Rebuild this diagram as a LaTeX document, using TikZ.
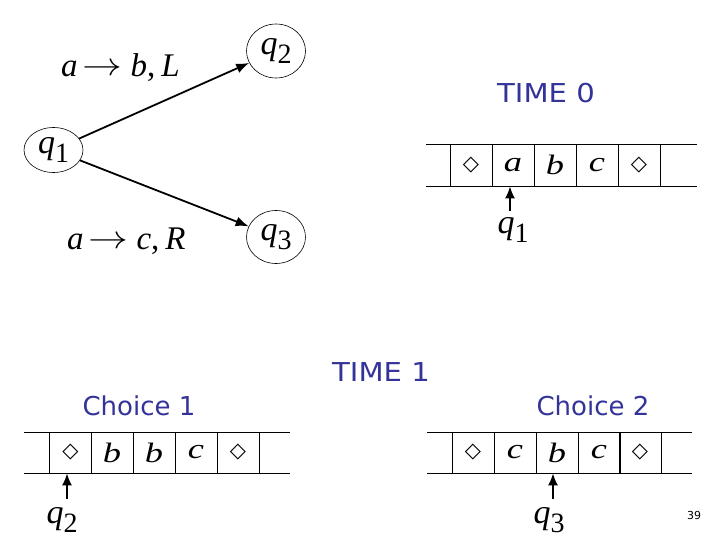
\documentclass[tikz,border=0pt]{standalone}
\usepackage{fontspec}
\setmainfont{Liberation Serif}
\newfontfamily\lblfont{DejaVu Sans}
\newfontfamily\symfont{DejaVu Sans}
\usetikzlibrary{arrows.meta,shapes.geometric}
\definecolor{tblue}{RGB}{51,51,153}
\newcommand{\qq}[1]{{\fontsize{34}{34}\selectfont\itshape q}{\fontsize{28}{28}\selectfont\raisebox{-9pt}{#1}}}
\newcommand{\tl}[1]{\fontsize{28}{28}\selectfont\scalebox{1.3}[1]{\itshape #1}}
\newcommand{\bl}{{\symfont\fontsize{21}{21}\selectfont ◇}}
\newcommand{\arr}{\hspace{5pt}\raisebox{1pt}{\scalebox{1.6}[1.3]{$\rightarrow$}}\hspace{8pt}}
\begin{document}
\begin{tikzpicture}[x=1pt,y=-1pt,
  state/.style={draw,ellipse,line width=0.6pt,inner sep=0pt,minimum width=59pt},
  trans/.style={-{Latex[length=13pt,width=10pt]},line width=1.8pt},
  head/.style={-{Latex[length=12pt,width=10pt]},line width=1.6pt},
  cell/.style={draw,line width=0.8pt,minimum width=42pt,minimum height=42pt,inner sep=0pt},
  tapeline/.style={line width=0.8pt},
  lbl/.style={text=tblue,font=\lblfont\fontsize{26}{26}\selectfont},
  ml/.style={font=\fontsize{33}{33}\selectfont,inner sep=0pt,anchor=base west},
  qlbl/.style={inner sep=0pt}]
\useasboundingbox (0,0) rectangle (720,540);
\fill[white] (0,0) rectangle (720,540);

% state diagram
\node[state,minimum height=45pt] (q1) at (53.5,150) {\qq{1}};
\node[state,minimum height=54pt] (q2) at (276,51) {\qq{2}};
\node[state,minimum height=53pt] (q3) at (276,237) {\qq{3}};
\draw[trans] (q1) -- (q2);
\draw[trans] (q1) -- (q3);
\node[ml] (l12) at (61,77) {\textit{a}\arr\textit{b},\hspace{6pt}\textit{L}};
\node[ml] (l13) at (67,249) {\textit{a}\arr\textit{c},\hspace{6pt}\textit{R}};

% TIME 0 tape
\node[lbl,xscale=1.12,transform shape] (time0) at (546,93) {TIME 0};
\draw[tapeline] (426,144) -- (697,144);
\draw[tapeline] (426,186) -- (697,186);
\node[cell] (t0c1) at (471,165) {\bl};
\node[cell] (t0c2) at (513,165) {\tl{a}};
\node[cell] (t0c3) at (555,165) {\tl{b}};
\node[cell] (t0c4) at (597,165) {\tl{c}};
\node[cell] (t0c5) at (639,165) {\bl};
\node[qlbl] (h0) at (513,230) {\qq{1}};
\coordinate (a0) at (510,211);
\draw[head] (a0) -- (a0 |- t0c2.south);

% TIME 1
\node[lbl,xscale=1.12,transform shape] (time1) at (381,372) {TIME 1};

% Choice 1
\node[lbl] (ch1) at (139,406) {Choice 1};
\draw[tapeline] (24,432) -- (290,432);
\draw[tapeline] (24,473) -- (290,473);
\node[cell,minimum height=41pt] (c1c1) at (70.5,452.5) {\bl};
\node[cell,minimum height=41pt] (c1c2) at (112,452.5) {\tl{b}};
\node[cell,minimum height=41pt] (c1c3) at (154,452.5) {\tl{b}};
\node[cell,minimum height=41pt] (c1c4) at (196,452.5) {\tl{c}};
\node[cell,minimum height=41pt] (c1c5) at (238,452.5) {\bl};
\node[qlbl] (h1) at (62,520) {\qq{2}};
\coordinate (a1) at (67,499);
\draw[head] (a1) -- (a1 |- c1c1.south);

% Choice 2
\node[lbl] (ch2) at (593,406) {Choice 2};
\draw[tapeline] (427,432) -- (692,432);
\draw[tapeline] (427,473) -- (692,473);
\node[cell,minimum height=41pt] (c2c1) at (473,452.5) {\bl};
\node[cell,minimum height=41pt] (c2c2) at (515,452.5) {\tl{c}};
\node[cell,minimum height=41pt] (c2c3) at (557,452.5) {\tl{b}};
\node[cell,minimum height=41pt] (c2c4) at (599,452.5) {\tl{c}};
\node[cell,minimum height=41pt] (c2c5) at (640,452.5) {\bl};
\node[qlbl] (h2) at (549,520) {\qq{3}};
\coordinate (a2) at (553,499);
\draw[head] (a2) -- (a2 |- c2c3.south);

\node[font=\lblfont\fontsize{11}{11}\selectfont] (pg) at (694,515) {39};
\end{tikzpicture}
\end{document}
